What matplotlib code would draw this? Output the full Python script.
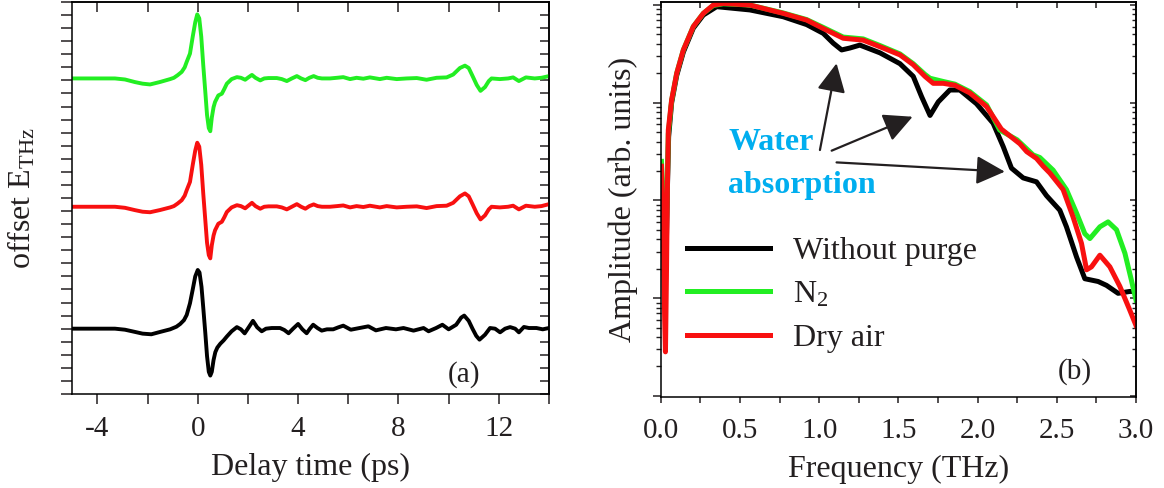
import matplotlib
matplotlib.use('Agg')
import matplotlib.pyplot as plt
from matplotlib.ticker import MultipleLocator, NullFormatter
import numpy as np

# ---- (a) time-domain traces, relative field (offset units) ----
t_black = [-5.0, -4.0, -3.3, -2.9, -2.5, -2.2, -1.85, -1.5, -1.1, -0.85, -0.7, -0.55, -0.44, -0.31,
           -0.2, -0.1, 0.0, 0.07, 0.15, 0.22, 0.3, 0.37, 0.44, 0.5, 0.56, 0.63, 0.7, 0.78, 0.9,
           1.03, 1.16, 1.35, 1.56, 1.72, 1.87, 2.03, 2.2, 2.37, 2.55, 2.72, 2.95, 3.28, 3.45, 3.62,
           3.8, 4.0, 4.17, 4.34, 4.47, 4.6, 4.77, 4.94, 5.15, 5.4, 5.6, 5.8, 6.1, 6.45, 6.8, 7.1,
           7.5, 7.9, 8.2, 8.6, 9.0, 9.2, 9.5, 9.75, 10.0, 10.3, 10.5, 10.62, 10.8, 10.95, 11.1,
           11.23, 11.45, 11.65, 11.85, 12.05, 12.25, 12.45, 12.65, 12.8, 13.0, 13.2, 13.5, 13.75, 14.0]
e_black = [0, 0, 0, -0.08, -0.25, -0.38, -0.43, -0.25, -0.05, 0.15, 0.36, 0.65, 1.05, 1.94,
           3.0, 4.0, 4.49, 4.3, 3.2, 1.6, -0.3, -2.1, -3.3, -3.59, -3.3, -2.4, -1.8, -1.45, -1.15,
           -0.9, -0.6, -0.2, 0.12, -0.05, -0.36, 0.1, 0.6, 0.1, -0.2, 0.0, 0.05, 0.05, -0.1, -0.35,
           0.0, 0.36, -0.05, -0.35, 0.0, 0.3, 0.05, -0.15, -0.05, -0.05, 0.1, 0.23, -0.08, 0.05, 0.18, -0.13,
           0.05, -0.05, 0.05, -0.15, 0.05, -0.2, 0.05, 0.3, -0.05, 0.3, 0.85, 1.0, 0.6, 0.0, -0.55,
           -0.84, -0.46, 0.05, 0.0, -0.28, 0.0, 0.12, 0.0, -0.28, 0.13, 0.05, 0.05, -0.05, 0.05]

t_purged = [-5.0, -4.0, -3.3, -2.9, -2.5, -2.2, -1.9, -1.5, -1.1, -0.95, -0.8, -0.64, -0.52, -0.44,
            -0.31, -0.2, -0.1, -0.02, 0.06, 0.14, 0.22, 0.3, 0.37, 0.44, 0.5, 0.56, 0.63, 0.69, 0.82,
            0.96, 1.06, 1.16, 1.35, 1.56, 1.72, 1.89, 2.03, 2.16, 2.3, 2.49, 2.65, 2.82, 3.15, 3.35,
            3.55, 3.75, 3.95, 4.12, 4.29, 4.45, 4.62, 4.78, 4.95, 5.27, 5.55, 5.8, 6.07, 6.33, 6.6,
            6.86, 7.26, 7.53, 7.93, 8.33, 8.73, 9.12, 9.52, 9.92, 10.18, 10.45, 10.65, 10.8, 10.95,
            11.12, 11.27, 11.45, 11.6, 11.71, 12.04, 12.37, 12.57, 12.8, 13.08, 13.43, 13.7, 14.0]
e_n2 = [0, 0, 0, -0.08, -0.28, -0.4, -0.46, -0.27, -0.05, 0.05, 0.25, 0.5, 0.85, 1.27,
        1.9, 3.2, 4.3, 4.9, 4.6, 3.2, 1.0, -1.0, -2.8, -3.8, -4.04, -3.0, -2.2, -1.8, -1.3,
        -1.17, -0.8, -0.4, -0.05, 0.1, 0.05, -0.1, 0.1, 0.27, 0.05, -0.15, 0.0, 0.03, 0.03, -0.05,
        -0.2, 0.0, 0.18, 0.0, -0.13, 0.05, 0.18, 0.05, 0.0, 0.0, 0.05, 0.1, -0.05, 0.05, -0.02,
        0.08, -0.05, 0.05, -0.05, 0.0, 0.03, -0.1, 0.05, 0.08, 0.3, 0.8, 0.98, 0.8, 0.2,
        -0.5, -0.95, -0.66, -0.2, 0.0, -0.05, 0.0, 0.08, -0.2, 0.08, 0.0, 0.05, 0.18]
e_dry = [0, 0, 0, -0.08, -0.26, -0.38, -0.42, -0.25, -0.05, 0.05, 0.25, 0.5, 0.85, 1.27,
         1.9, 3.2, 4.3, 4.9, 4.6, 3.2, 1.0, -1.0, -2.75, -3.7, -3.95, -2.95, -2.2, -1.8, -1.3,
         -1.15, -0.8, -0.4, -0.05, 0.12, 0.05, -0.12, 0.1, 0.3, 0.05, -0.15, 0.0, 0.03, 0.03, -0.05,
         -0.2, 0.0, 0.2, 0.0, -0.15, 0.05, 0.18, 0.05, 0.0, 0.0, 0.05, 0.1, -0.05, 0.05, -0.02,
         0.08, -0.05, 0.05, -0.05, 0.0, 0.03, -0.1, 0.05, 0.08, 0.3, 0.8, 1.02, 0.8, 0.2,
         -0.5, -0.97, -0.66, -0.2, 0.0, -0.05, 0.0, 0.08, -0.2, 0.08, 0.0, 0.05, 0.2]

offset_black, offset_dry, offset_n2 = 5.0, 14.33, 24.15

# ---- (b) spectra ----
f_black = [0.035, 0.042, 0.05, 0.069, 0.101, 0.143, 0.206, 0.269, 0.353, 0.563, 0.773, 0.921,
           1.026, 1.089, 1.142, 1.194, 1.257, 1.384, 1.51, 1.594, 1.647, 1.70, 1.752, 1.825, 1.888,
           1.993, 2.098, 2.162, 2.214, 2.288, 2.372, 2.435, 2.519, 2.561, 2.625, 2.677, 2.761,
           2.814, 2.887, 2.96, 3.0]
a_black = [0.00316, 0.0126, 0.0447, 0.1, 0.19, 0.33, 0.58, 0.79, 0.962, 0.891, 0.759, 0.631,
           0.513, 0.407, 0.347, 0.363, 0.389, 0.324, 0.251, 0.186, 0.115, 0.0741, 0.102, 0.135, 0.135,
           0.0977, 0.0617, 0.0355, 0.0214, 0.017, 0.0155, 0.0112, 0.00794, 0.00537, 0.00263, 0.00158,
           0.00148, 0.00135, 0.00112, 0.00117, 0.00117]

f_n2 = [0.005, 0.012, 0.02, 0.03, 0.04, 0.048, 0.069, 0.101, 0.143, 0.206, 0.269, 0.332, 0.395,
        0.563, 0.773, 0.921, 1.026, 1.152, 1.278, 1.384, 1.51, 1.594, 1.668, 1.70, 1.783, 1.857,
        1.951, 2.057, 2.14, 2.25, 2.351, 2.393, 2.477, 2.561, 2.625, 2.677, 2.709, 2.772, 2.824,
        2.877, 2.93, 2.97, 3.0]
a_n2 = [0.0251, 0.0141, 0.00631, 0.00251, 0.01, 0.0479, 0.105, 0.2, 0.347, 0.603, 0.822, 0.99, 1.03,
        1.0, 0.83, 0.71, 0.59, 0.47, 0.45, 0.385, 0.316, 0.251, 0.195, 0.178, 0.165, 0.155,
        0.13, 0.095, 0.0525, 0.0417, 0.0292, 0.0275, 0.0204, 0.0129, 0.00741, 0.00457, 0.00407,
        0.00537, 0.00603, 0.00501, 0.00288, 0.00155, 0.000955]

f_dry = [0.005, 0.015, 0.025, 0.03, 0.036, 0.042, 0.048, 0.069, 0.101, 0.143, 0.206, 0.269, 0.332,
         0.395, 0.563, 0.773, 0.921, 1.026, 1.152, 1.278, 1.384, 1.51, 1.594, 1.668, 1.72, 1.783,
         1.857, 1.951, 2.057, 2.15, 2.267, 2.31, 2.372, 2.414, 2.456, 2.54, 2.603, 2.656, 2.688,
         2.719, 2.772, 2.835, 2.898, 2.96, 3.0]
a_dry = [0.0224, 0.00631, 0.000631, 0.000282, 0.00158, 0.0126, 0.0525, 0.107, 0.2, 0.347, 0.603,
         0.822, 1.0, 1.04, 1.0, 0.822, 0.702, 0.575, 0.457, 0.437, 0.374, 0.309, 0.245, 0.186, 0.158,
         0.158, 0.151, 0.126, 0.0912, 0.0537, 0.038, 0.0316, 0.0269, 0.0224, 0.0191, 0.0129, 0.00676,
         0.00363, 0.00195, 0.00209, 0.00275, 0.00209, 0.00132, 0.000759, 0.000525]

labels = ['Without purge', 'N$_2$', 'Dry air']
c_black, c_green, c_red = 'black', '#22EE22', '#F81010'

# arrows: (tail, tip) in (THz, amplitude)
arrow_tails = [(1.005, 0.0328), (1.079, 0.0323), (1.110, 0.0245)]
arrow_tips = [(1.110, 0.253), (1.590, 0.0719), (2.172, 0.0197)]

txt_col = '#231F20'
plt.rcParams.update({'font.family': 'Liberation Serif',
                     'mathtext.fontset': 'custom',
                     'mathtext.rm': 'Liberation Serif',
                     'mathtext.it': 'Liberation Serif:italic',
                     'axes.unicode_minus': False,
                     'axes.linewidth': 1.1,
                     'text.color': txt_col,
                     'axes.labelcolor': txt_col,
                     'xtick.color': txt_col,
                     'ytick.color': txt_col,
                     'xtick.labelsize': 21,
                     'ytick.labelsize': 21,
                     'axes.labelsize': 23})

fig = plt.figure(figsize=(11.64, 4.88), dpi=100)
W, H = 1164., 488.
ax1 = fig.add_axes([72.3 / W, (H - 394) / H, 476.7 / W, 392 / H])
ax2 = fig.add_axes([660.7 / W, (H - 396.7) / H, 475.3 / W, 394.7 / H])

# ---------- panel (a) ----------
ax1.plot(t_black, np.array(e_black) + offset_black, color=c_black, lw=2.8)
ax1.plot(t_purged, np.array(e_dry) + offset_dry, color=c_red, lw=2.8)
ax1.plot(t_purged, np.array(e_n2) + offset_n2, color=c_green, lw=2.8)
ax1.set_xlim(-5, 14)
ax1.set_ylim(0, 30)
ax1.xaxis.set_major_locator(MultipleLocator(4))
ax1.xaxis.set_minor_locator(MultipleLocator(2))
ax1.yaxis.set_major_locator(MultipleLocator(1))
ax1.tick_params(axis='x', which='both', direction='out', length=7, width=1.1, top=False, pad=9)
ax1.tick_params(axis='y', which='both', direction='out', length=8, width=1.1, right=False, labelleft=False)
sx1 = ax1.secondary_xaxis('top')
sx1.xaxis.set_major_locator(MultipleLocator(2))
sx1.tick_params(axis='x', direction='in', length=7, width=1.1, labeltop=False)
sy1 = ax1.secondary_yaxis('right')
sy1.yaxis.set_major_locator(MultipleLocator(1))
sy1.tick_params(axis='y', direction='in', length=6.5, width=1.1, labelright=False)
ax1.set_xlabel('Delay time (ps)', labelpad=8)
ax1.set_ylabel(r'offset E$_{\mathrm{THz}}$', labelpad=17)
ax1.text(0.822, 0.0485, '(a)', transform=ax1.transAxes, fontsize=21, ha='center', va='center')

# ---------- panel (b) ----------
ax2.plot(f_black, a_black, color=c_black, lw=3.6, label=labels[0])
ax2.plot(f_n2, a_n2, color=c_green, lw=3.6, label=labels[1])
ax2.plot(f_dry, a_dry, color=c_red, lw=3.6, label=labels[2])
ax2.set_yscale('log')
ax2.set_xlim(0, 3.0)
ax2.set_ylim(10 ** -4.009, 10 ** 0.031)
ax2.xaxis.set_major_locator(MultipleLocator(0.5))
ax2.xaxis.set_minor_locator(MultipleLocator(0.25))
ax2.xaxis.set_major_formatter(matplotlib.ticker.FormatStrFormatter('%.1f'))
ax2.tick_params(axis='x', which='both', direction='out', length=4.5, width=1.1, top=False, pad=11)
ax2.tick_params(axis='y', which='major', direction='out', length=6, width=1.1, right=False)
ax2.tick_params(axis='y', which='minor', direction='out', length=3.5, width=1.0, right=False)
ax2.yaxis.set_major_formatter(NullFormatter())
ax2.yaxis.set_minor_formatter(NullFormatter())
sx2 = ax2.secondary_xaxis('top')
sx2.xaxis.set_major_locator(MultipleLocator(0.25))
sx2.tick_params(axis='x', direction='in', length=4.5, width=1.1, labeltop=False)
sy2 = ax2.secondary_yaxis('right')
sy2.tick_params(axis='y', which='major', direction='in', length=4.5, width=1.1, labelright=False)
sy2.tick_params(axis='y', which='minor', direction='in', length=3, width=1.0, labelright=False)
sy2.yaxis.set_major_formatter(NullFormatter())
sy2.yaxis.set_minor_formatter(NullFormatter())
ax2.set_xlabel('Frequency (THz)', labelpad=8)
ax2.set_ylabel('Amplitude (arb. units)', labelpad=7)

for tail, tip in zip(arrow_tails, arrow_tips):
    ax2.annotate('', xy=tip, xytext=tail,
                 arrowprops=dict(arrowstyle='-|>,head_length=0.8,head_width=0.4', lw=1.6,
                                 color=txt_col, shrinkA=0, shrinkB=0, mutation_scale=22))
ax2.text(0.1416, 0.625, 'Water', transform=ax2.transAxes, fontsize=23, fontweight='bold',
         color='#00AEEF', ha='left', va='baseline')
ax2.text(0.1416, 0.517, 'absorption', transform=ax2.transAxes, fontsize=23, fontweight='bold',
         color='#00AEEF', ha='left', va='baseline')

ax2.legend(loc='upper left', bbox_to_anchor=(0.0547, 0.406), frameon=False, borderpad=0,
           borderaxespad=0, handlelength=2.6, handletextpad=0.72, labelspacing=0.44, fontsize=23)
ax2.text(0.872, 0.0626, '(b)', transform=ax2.transAxes, fontsize=21, ha='center', va='center')

plt.savefig('out.png', dpi=100)
